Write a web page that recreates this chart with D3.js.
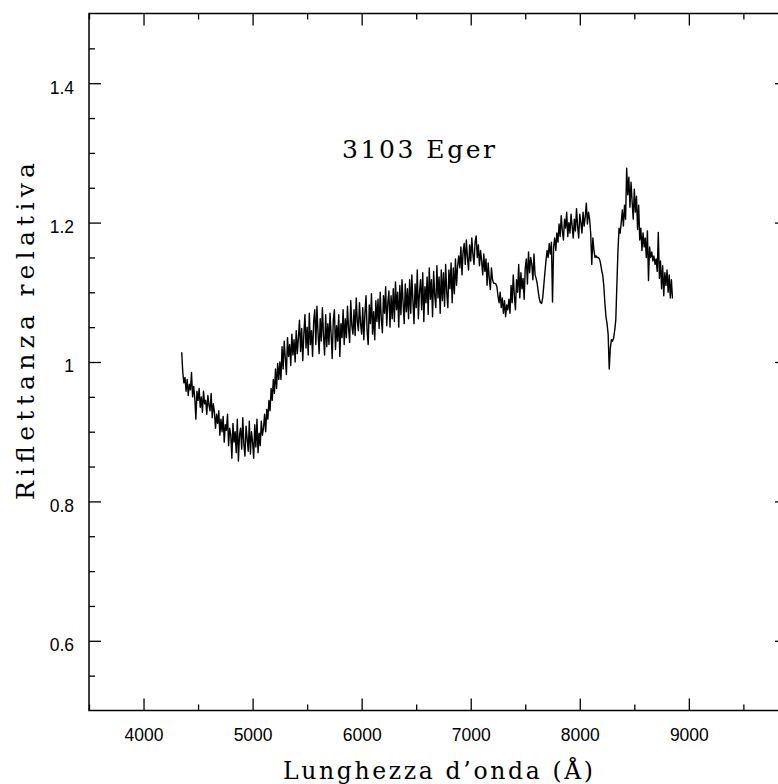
<!DOCTYPE html>
<html>
<head>
<meta charset="utf-8">
<script src="https://cdn.jsdelivr.net/npm/d3@7/dist/d3.min.js"></script>
<style>
  html, body { margin: 0; padding: 0; background: #fff; }
  svg { display: block; }
  .axis text { font-family: "Liberation Sans", Arial, sans-serif; font-size: 17.5px; fill: #000; }
  .axis line { stroke: #000; stroke-width: 1.3; }
  .axis path { display: none; }
  .title { font-family: "DejaVu Serif", serif; fill: #000; }
</style>
</head>
<body>
<svg id="spectrum" width="778" height="784"></svg>
<script>
// Spectrum of 3103 Eger, sampled every 10 Å starting at 4350 Å
const lambdaStart = 4350;
const lambdaStep = 10;
const reflectance = [
  1.014, 0.985, 0.970, 0.978, 0.958, 0.975, 0.952, 0.968, 0.960, 0.985, 0.950, 0.965, 0.948, 0.918, 0.958,
  0.945, 0.962, 0.935, 0.950, 0.928, 0.958, 0.940, 0.945, 0.925, 0.952, 0.938, 0.930, 0.955, 0.920, 0.940,
  0.928, 0.905, 0.925, 0.912, 0.930, 0.895, 0.918, 0.900, 0.922, 0.885, 0.910, 0.902, 0.925, 0.880, 0.905,
  0.895, 0.862, 0.912, 0.885, 0.900, 0.870, 0.918, 0.858, 0.895, 0.905, 0.875, 0.920, 0.882, 0.865, 0.908,
  0.890, 0.872, 0.915, 0.868, 0.900, 0.885, 0.862, 0.910, 0.878, 0.918, 0.870, 0.898, 0.880, 0.915, 0.895,
  0.905, 0.925, 0.900, 0.932, 0.918, 0.945, 0.930, 0.962, 0.945, 0.975, 0.955, 0.990, 0.962, 0.998, 0.975,
  1.000, 0.975, 1.022, 0.990, 1.030, 1.005, 0.982, 1.035, 1.008, 1.025, 0.995, 1.040, 1.010, 1.032, 1.000,
  1.045, 1.012, 1.035, 1.060, 1.015, 1.048, 1.002, 1.040, 1.068, 1.020, 1.050, 1.010, 1.070, 1.025, 1.045,
  1.008, 1.058, 1.075, 1.025, 1.080, 1.042, 1.012, 1.062, 1.030, 1.078, 1.038, 1.010, 1.068, 1.022, 1.055,
  1.025, 1.070, 1.040, 1.005, 1.060, 1.075, 1.018, 1.052, 1.030, 1.068, 1.008, 1.055, 1.035, 1.075, 1.025,
  1.062, 1.035, 1.080, 1.048, 1.028, 1.088, 1.052, 1.040, 1.075, 1.038, 1.092, 1.058, 1.045, 1.085, 1.055,
  1.040, 1.078, 1.032, 1.070, 1.095, 1.045, 1.025, 1.082, 1.055, 1.098, 1.040, 1.072, 1.032, 1.088, 1.058,
  1.090, 1.048, 1.100, 1.062, 1.042, 1.095, 1.070, 1.108, 1.052, 1.085, 1.102, 1.050, 1.095, 1.062, 1.105,
  1.058, 1.115, 1.075, 1.100, 1.050, 1.110, 1.068, 1.118, 1.085, 1.055, 1.112, 1.072, 1.105, 1.062, 1.118,
  1.070, 1.125, 1.088, 1.055, 1.112, 1.078, 1.132, 1.062, 1.100, 1.118, 1.075, 1.128, 1.058, 1.108, 1.085,
  1.122, 1.068, 1.135, 1.090, 1.118, 1.065, 1.130, 1.095, 1.078, 1.138, 1.092, 1.122, 1.070, 1.132, 1.088,
  1.128, 1.080, 1.140, 1.100, 1.078, 1.132, 1.105, 1.142, 1.085, 1.135, 1.098, 1.148, 1.110, 1.138, 1.152,
  1.135, 1.165, 1.125, 1.158, 1.170, 1.140, 1.175, 1.150, 1.132, 1.168, 1.145, 1.178, 1.155, 1.140, 1.172,
  1.181, 1.150, 1.168, 1.138, 1.160, 1.145, 1.125, 1.155, 1.130, 1.148, 1.110, 1.142, 1.120, 1.104, 1.135,
  1.118, 1.113, 1.113, 1.112, 1.108, 1.095, 1.085, 1.100, 1.078, 1.092, 1.070, 1.088, 1.065, 1.082, 1.075,
  1.090, 1.070, 1.110, 1.085, 1.125, 1.095, 1.075, 1.118, 1.100, 1.140, 1.092, 1.128, 1.105, 1.120, 1.090,
  1.135, 1.148, 1.112, 1.158, 1.128, 1.150, 1.140, 1.118, 1.155, 1.125, 1.120, 1.112, 1.100, 1.090, 1.085,
  1.084, 1.092, 1.110, 1.128, 1.145, 1.160, 1.150, 1.170, 1.155, 1.172, 1.086, 1.165, 1.178, 1.160, 1.185,
  1.172, 1.198, 1.180, 1.210, 1.188, 1.175, 1.205, 1.192, 1.215, 1.180, 1.200, 1.185, 1.212, 1.195, 1.178,
  1.205, 1.188, 1.220, 1.195, 1.178, 1.212, 1.200, 1.185, 1.215, 1.195, 1.208, 1.228, 1.198, 1.215, 1.205,
  1.185, 1.140, 1.178, 1.160, 1.150, 1.152, 1.150, 1.150, 1.148, 1.142, 1.132, 1.125, 1.110, 1.085, 1.065,
  1.055, 1.040, 0.990, 1.020, 1.032, 1.030, 1.034, 1.045, 1.060, 1.110, 1.160, 1.192, 1.185, 1.200, 1.218,
  1.195, 1.225, 1.205, 1.278, 1.240, 1.265, 1.222, 1.258, 1.230, 1.205, 1.248, 1.215, 1.238, 1.190, 1.225,
  1.175, 1.192, 1.160, 1.185, 1.165, 1.178, 1.150, 1.188, 1.117, 1.165, 1.150, 1.158, 1.145, 1.152, 1.140,
  1.148, 1.130, 1.186, 1.120, 1.145, 1.105, 1.138, 1.095, 1.128, 1.110, 1.132, 1.100, 1.125, 1.092, 1.118,
  1.091
];

const xMajorTicks = [4000, 5000, 6000, 7000, 8000, 9000];
const xMinorTicks = [3500, 4500, 5500, 6500, 7500, 8500, 9500];
const yMajorTicks = [0.6, 0.8, 1.0, 1.2, 1.4];
const yTickLabels = ["0.6", "0.8", "1", "1.2", "1.4"];
const yMinorTicks = [0.55, 0.65, 0.7, 0.75, 0.85, 0.9, 0.95, 1.05, 1.1, 1.15, 1.25, 1.3, 1.35, 1.45];

const xTitle = "Lunghezza d\u2019onda (\u00C5)";
const yTitle = "Riflettanza relativa";
const objectName = "3103 Eger";
const labelAt = { wavelength: 5820, value: 1.292 };

(function () {
  const svg = d3.select("#spectrum");

  const plot = { left: 89, right: 787, top: 13.5, bottom: 710.5 };

  const x = d3.scaleLinear().domain([3500, 9900]).range([plot.left, plot.right]);
  const y = d3.scaleLinear().domain([0.5, 1.5]).range([plot.bottom, plot.top]);

  const data = reflectance.map((v, i) => ({ lambda: lambdaStart + i * lambdaStep, value: v }));

  // Frame
  svg.append("rect")
    .attr("x", plot.left)
    .attr("y", plot.top)
    .attr("width", plot.right - plot.left)
    .attr("height", plot.bottom - plot.top)
    .attr("fill", "none")
    .attr("stroke", "#000")
    .attr("stroke-width", 1.5);

  const major = 12, minor = 6;

  // Bottom axis (labels) + minor
  svg.append("g").attr("class", "axis").attr("transform", `translate(0,${plot.bottom})`)
    .call(d3.axisBottom(x).tickValues(xMajorTicks).tickSizeInner(-major).tickSizeOuter(0).tickPadding(18).tickFormat(d3.format("d")));
  svg.append("g").attr("class", "axis").attr("transform", `translate(0,${plot.bottom})`)
    .call(d3.axisBottom(x).tickValues(xMinorTicks).tickSizeInner(-minor).tickSizeOuter(0).tickFormat(""));

  // Top axis ticks
  svg.append("g").attr("class", "axis").attr("transform", `translate(0,${plot.top})`)
    .call(d3.axisTop(x).tickValues(xMajorTicks).tickSizeInner(-major).tickSizeOuter(0).tickFormat(""));
  svg.append("g").attr("class", "axis").attr("transform", `translate(0,${plot.top})`)
    .call(d3.axisTop(x).tickValues(xMinorTicks).tickSizeInner(-minor).tickSizeOuter(0).tickFormat(""));

  // Left axis (labels) + minor
  const yLeft = svg.append("g").attr("class", "axis").attr("transform", `translate(${plot.left},0)`)
    .call(d3.axisLeft(y).tickValues(yMajorTicks).tickSizeInner(-major).tickSizeOuter(0).tickPadding(15)
      .tickFormat((d, i) => yTickLabels[i]));
  yLeft.selectAll("text").attr("dy", "0.57em");
  svg.append("g").attr("class", "axis").attr("transform", `translate(${plot.left},0)`)
    .call(d3.axisLeft(y).tickValues(yMinorTicks).tickSizeInner(-minor).tickSizeOuter(0).tickFormat(""));

  // Right axis ticks
  svg.append("g").attr("class", "axis").attr("transform", `translate(${plot.right},0)`)
    .call(d3.axisRight(y).tickValues(yMajorTicks).tickSizeInner(-major).tickSizeOuter(0).tickFormat(""));
  svg.append("g").attr("class", "axis").attr("transform", `translate(${plot.right},0)`)
    .call(d3.axisRight(y).tickValues(yMinorTicks).tickSizeInner(-minor).tickSizeOuter(0).tickFormat(""));

  // Spectrum
  const line = d3.line().x(d => x(d.lambda)).y(d => y(d.value));
  svg.append("path")
    .datum(data)
    .attr("d", line)
    .attr("fill", "none")
    .attr("stroke", "#000")
    .attr("stroke-width", 1.4)
    .attr("stroke-linejoin", "round");

  // Titles
  svg.append("text")
    .attr("class", "title")
    .attr("x", 283)
    .attr("y", 779)
    .attr("font-size", 23.5)
    .attr("textLength", 310)
    .attr("lengthAdjust", "spacing")
    .text(xTitle);

  svg.append("text")
    .attr("class", "title")
    .attr("transform", "translate(34,500) rotate(-90)")
    .attr("font-size", 25)
    .attr("textLength", 337)
    .attr("lengthAdjust", "spacing")
    .text(yTitle);

  svg.append("text")
    .attr("class", "title")
    .attr("x", x(labelAt.wavelength))
    .attr("y", y(labelAt.value))
    .attr("font-size", 25)
    .attr("textLength", 153)
    .attr("lengthAdjust", "spacing")
    .text(objectName);
})();
</script>
</body>
</html>
